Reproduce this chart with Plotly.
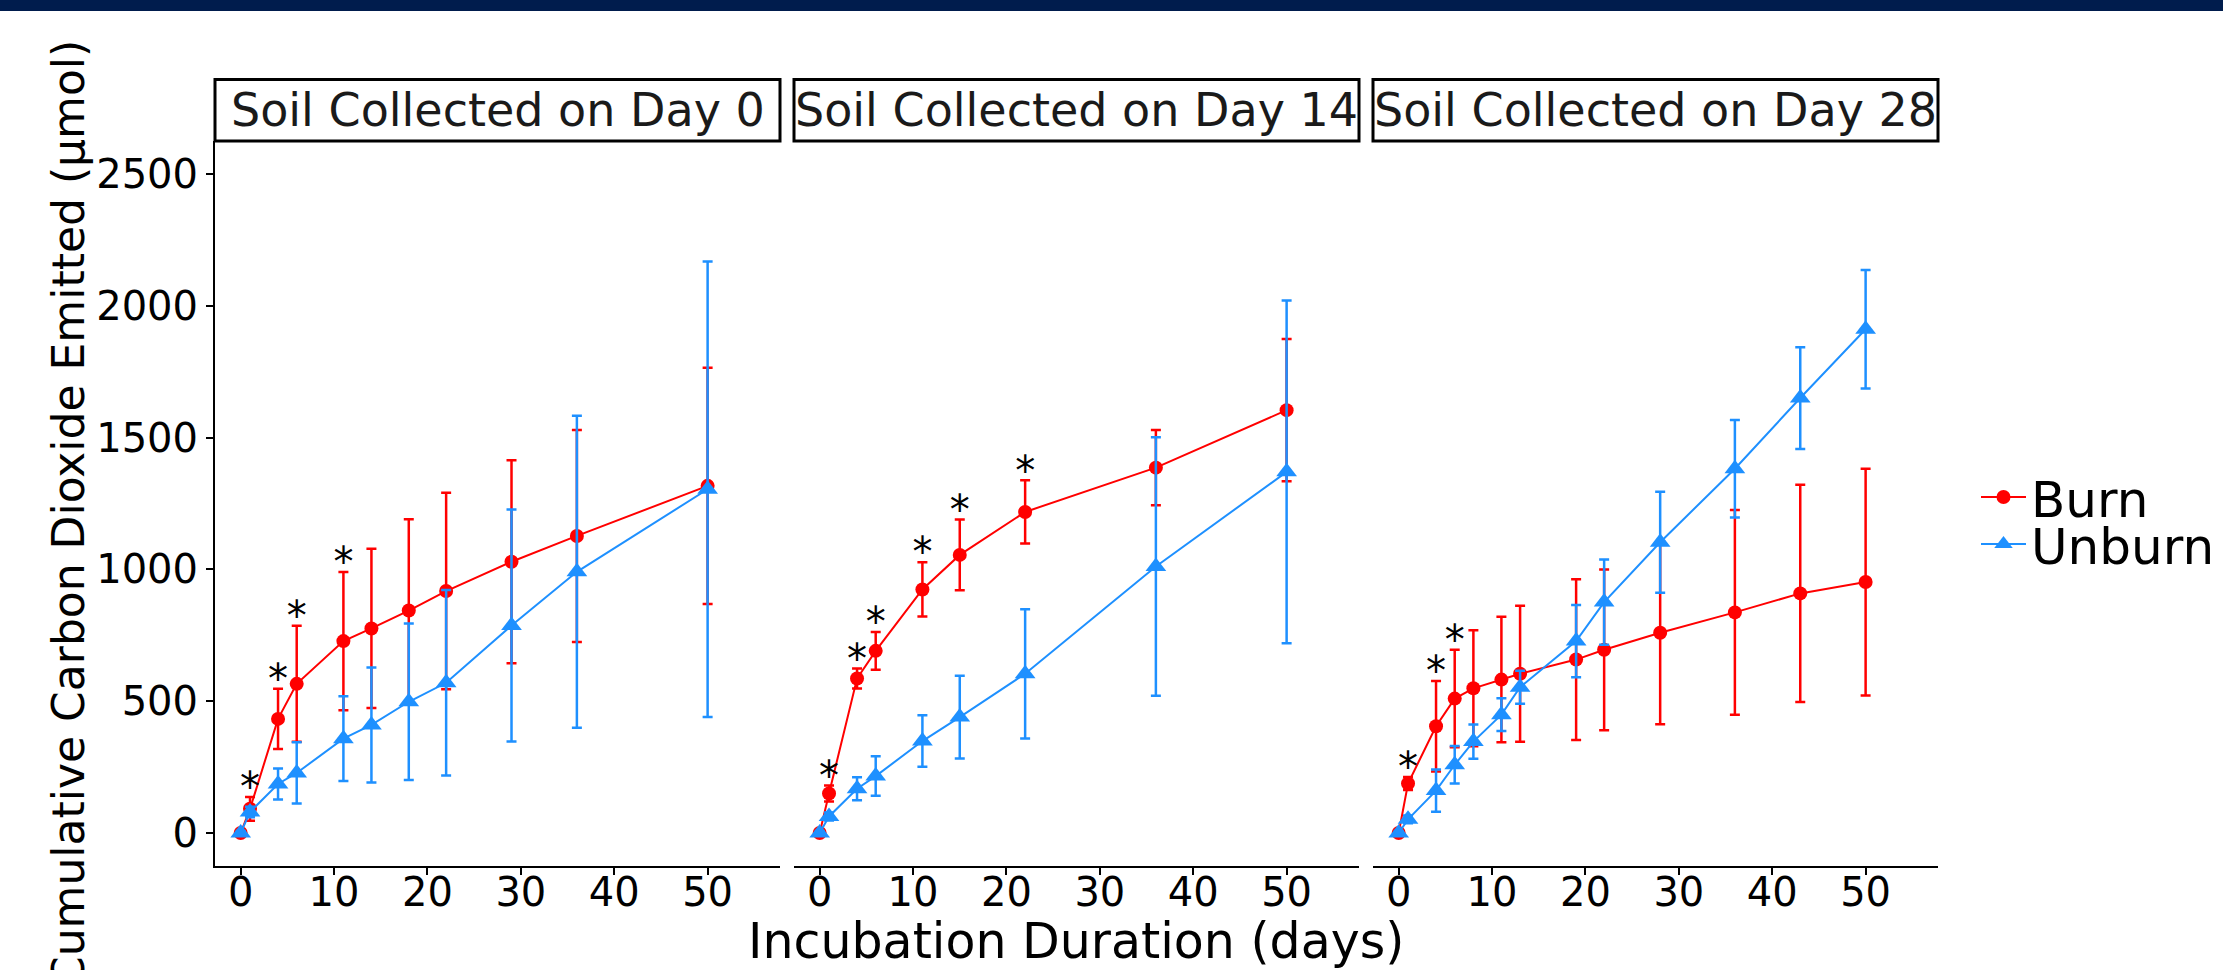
import plotly.graph_objects as go

# ---------------- data ----------------
strip_titles = ["Soil Collected on Day 0", "Soil Collected on Day 14", "Soil Collected on Day 28"]

days_d0 = [0, 1, 4, 6, 11, 14, 18, 22, 29, 36, 50]
burn_d0 = [0, 92, 433, 566, 728, 776, 844, 918, 1029, 1127, 1317]
burn_se_d0 = [8, 45, 114, 220, 262, 302, 346, 373, 385, 402, 448]
unburn_d0 = [0, 80, 186, 228, 358, 410, 498, 570, 787, 991, 1304]
unburn_se_d0 = [8, 20, 59, 116, 161, 218, 297, 352, 440, 592, 864]
sig_d0 = [1, 4, 6, 11]

days_d14 = [0, 1, 4, 6, 11, 15, 22, 36, 50]
burn_d14 = [0, 150, 586, 691, 924, 1055, 1218, 1386, 1604]
burn_se_d14 = [8, 30, 38, 72, 103, 134, 120, 143, 270]
unburn_d14 = [0, 63, 168, 216, 349, 440, 604, 1011, 1370]
unburn_se_d14 = [8, 15, 44, 75, 98, 157, 245, 490, 650]
sig_d14 = [1, 4, 6, 11, 15, 22]

days_d28 = [0, 1, 4, 6, 8, 11, 13, 19, 22, 28, 36, 43, 50]
burn_d28 = [0, 188, 405, 510, 549, 582, 604, 658, 695, 760, 837, 909, 952]
burn_se_d28 = [8, 25, 172, 185, 220, 238, 258, 305, 305, 347, 388, 412, 430]
unburn_d28 = [0, 52, 161, 259, 347, 449, 553, 728, 876, 1103, 1382, 1650, 1911]
unburn_se_d28 = [8, 15, 80, 71, 65, 62, 63, 137, 162, 192, 185, 193, 225]
sig_d28 = [1, 4, 6]

x_ticks = [0, 10, 20, 30, 40, 50]
y_ticks = [0, 500, 1000, 1500, 2000, 2500]

x_title = "Incubation Duration (days)"
y_title = "Cumulative Carbon Dioxide Emitted (μmol)"

# ---------------- style ----------------
FONT = "DejaVu Sans"
RED = "#FF0000"
BLUE = "#1E90FF"
W, H = 2223, 970
STAR_PAD = 22


def px_x(p):
    return p / W


def px_y(p):
    return 1 - p / H


panel_px = [(215, 780), (794, 1359), (1373, 1938)]
PANEL_TOP, PANEL_BOTTOM, STRIP_TOP = 141, 866, 79.5

panels = [
    (days_d0, burn_d0, burn_se_d0, unburn_d0, unburn_se_d0, sig_d0),
    (days_d14, burn_d14, burn_se_d14, unburn_d14, unburn_se_d14, sig_d14),
    (days_d28, burn_d28, burn_se_d28, unburn_d28, unburn_se_d28, sig_d28),
]

fig = go.Figure()

for i, (days, burn, burn_se, unburn, unburn_se, sig) in enumerate(panels):
    xa = "x" if i == 0 else f"x{i + 1}"
    fig.add_trace(go.Scatter(
        x=days, y=burn, mode="lines+markers", name="Burn",
        line=dict(color=RED, width=2),
        marker=dict(symbol="circle", size=14, color=RED),
        error_y=dict(type="data", array=burn_se, visible=True, color=RED,
                     thickness=2.5, width=5),
        xaxis=xa, yaxis="y", showlegend=(i == 0), legend="legend",
    ))
    fig.add_trace(go.Scatter(
        x=days, y=unburn, mode="lines+markers", name="Unburn",
        line=dict(color=BLUE, width=2),
        marker=dict(symbol="triangle-up", size=18, color=BLUE),
        error_y=dict(type="data", array=unburn_se, visible=True, color=BLUE,
                     thickness=2.5, width=5),
        xaxis=xa, yaxis="y", showlegend=(i == 0), legend="legend2",
    ))
    star_x = [d for d in days if d in sig]
    star_y = [b + s + STAR_PAD for d, b, s in zip(days, burn, burn_se) if d in sig]
    fig.add_trace(go.Scatter(
        x=star_x, y=star_y, mode="text", text=["*"] * len(star_x),
        textposition="middle center",
        textfont=dict(family=FONT, size=40, color="black"),
        showlegend=False, hoverinfo="skip", xaxis=xa, yaxis="y",
    ))

xcommon = dict(
    range=[-2.75, 57.75], tickmode="array", tickvals=x_ticks,
    ticktext=[str(v) for v in x_ticks], ticks="outside", ticklen=7,
    tickwidth=2, tickcolor="black", showline=True, linewidth=2,
    linecolor="black", showgrid=False, zeroline=False,
    tickfont=dict(family=FONT, size=40, color="black"), anchor="y",
    ticklabelstandoff=-17,
)

layout_axes = {}
for i, (a, b) in enumerate(panel_px):
    key = "xaxis" if i == 0 else f"xaxis{i + 1}"
    layout_axes[key] = dict(domain=[px_x(a), px_x(b)], **xcommon)

layout_axes["yaxis"] = dict(
    domain=[px_y(PANEL_BOTTOM), px_y(PANEL_TOP)], range=[-125, 2625],
    tickmode="array", tickvals=y_ticks, ticktext=[str(v) for v in y_ticks],
    ticks="outside", ticklen=7, tickwidth=2, tickcolor="black",
    showline=True, linewidth=2, linecolor="black", showgrid=False,
    zeroline=False, tickfont=dict(family=FONT, size=40, color="black"),
    anchor="x",
)

shapes = [
    dict(type="rect", xref="paper", yref="paper", x0=0, x1=1,
         y0=px_y(11), y1=1, fillcolor="#001C4D", line=dict(width=0)),
]
annotations = []
for (a, b), title in zip(panel_px, strip_titles):
    shapes.append(dict(type="rect", xref="paper", yref="paper",
                       x0=px_x(a), x1=px_x(b), y0=px_y(PANEL_TOP), y1=px_y(STRIP_TOP),
                       fillcolor="white", line=dict(color="black", width=3)))
    annotations.append(dict(text=title, xref="paper", yref="paper",
                            x=px_x((a + b) / 2), y=px_y((PANEL_TOP + STRIP_TOP) / 2),
                            xanchor="center", yanchor="middle", showarrow=False,
                            font=dict(family=FONT, size=46, color="#1A1A1A")))

annotations.append(dict(text=x_title, xref="paper", yref="paper",
                        x=px_x(1076), y=px_y(941), xanchor="center", yanchor="middle",
                        showarrow=False, font=dict(family=FONT, size=49, color="black")))
annotations.append(dict(text=y_title, xref="paper", yref="paper", textangle=-90,
                        x=px_x(68), y=px_y(514), xanchor="center", yanchor="middle",
                        showarrow=False, font=dict(family=FONT, size=44, color="black")))

legend_common = dict(xanchor="left", yanchor="middle",
                     font=dict(family=FONT, size=50, color="black"),
                     itemwidth=45, bgcolor="rgba(0,0,0,0)", borderwidth=0,
                     tracegroupgap=0)

fig.update_layout(
    width=W, height=H, autosize=False,
    margin=dict(l=0, r=0, t=0, b=0),
    paper_bgcolor="white", plot_bgcolor="white",
    shapes=shapes, annotations=annotations,
    legend=dict(x=px_x(1976), y=px_y(497), **legend_common),
    legend2=dict(x=px_x(1976), y=px_y(544), **legend_common),
    **layout_axes,
)

fig.write_html("out.html", config={"displayModeBar": False},
               post_script="document.body.style.margin='0';")
